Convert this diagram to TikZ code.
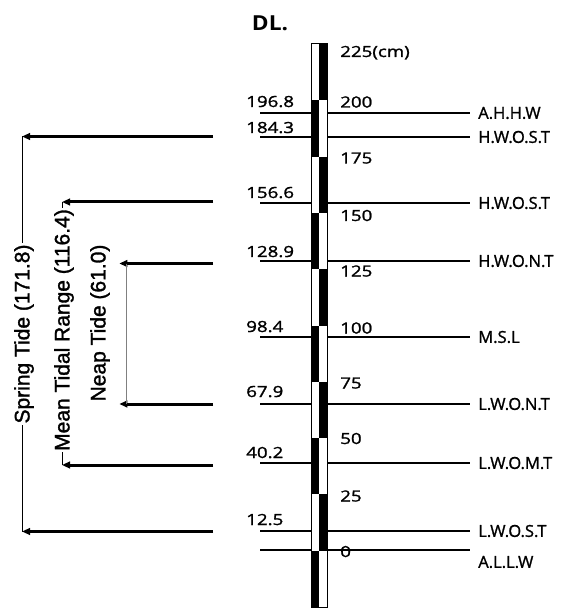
\documentclass[tikz,border=0pt]{standalone}
\usepackage{fontspec}
\usetikzlibrary{arrows.meta}
\newfontfamily\numfont[FakeStretch=1.22,FakeBold=1.5]{Open Sans}
\newfontfamily\dlfont[FakeStretch=1.1]{Open Sans}
\newfontfamily\labfont[FakeBold=1.2]{Open Sans}
\newfontfamily\spanfont[FakeBold=1.5]{Liberation Sans}

\begin{document}
\begin{tikzpicture}[x=0.75pt,y=-0.75pt,
  levelline/.style={line width=1.5pt},
  tidearrow/.style={line width=2.25pt,-{Triangle[length=6pt,width=5pt]}},
  rangeline/.style={line width=0.75pt},
  num/.style={font=\numfont\fontsize{11.5}{13}\selectfont,inner sep=0pt,anchor=base west},
  tag/.style={font=\labfont\fontsize{12.4}{14}\selectfont,inner sep=0pt,anchor=west},
  spantext/.style={font=\spanfont\fontsize{15.75}{18}\selectfont,rotate=90,inner xsep=1pt,inner ysep=0pt}]
  \useasboundingbox (0,0) rectangle (573,609);

  \node[font=\dlfont\bfseries\fontsize{15.5}{17}\selectfont, inner sep=0pt] (dl) at (270,23) {DL.};

  \foreach \k in {0,...,9} {
    \pgfmathsetmacro\ya{44+56.3*\k}
    \pgfmathsetmacro\yb{\ya+56.3}
    \ifodd\k
      \fill (311,\ya) rectangle (319,\yb);
    \else
      \fill (319,\ya) rectangle (327,\yb);
    \fi
  }
  \node[draw, line width=0.75pt, minimum width=12pt, minimum height=422.25pt, inner sep=0pt] (staff) at (319,325.5) {};

  \node[num] (s225) at (340,57) {225(cm)};
  \node[num] (s200) at (340,107.5) {200};
  \node[num] (s175) at (340,163.5) {175};
  \node[num] (s150) at (340,221) {150};
  \node[num] (s125) at (340,276.5) {125};
  \node[num] (s100) at (340,333.5) {100};
  \node[num] (s75) at (340,388.5) {75};
  \node[num] (s50) at (340,444) {50};
  \node[num] (s25) at (340,501.5) {25};
  \node[num] (s0) at (340,557) {0};

  \coordinate (ahhw) at (260,113);
  \coordinate (hwost1) at (260,137);
  \coordinate (hwost2) at (260,203);
  \coordinate (hwont) at (260,261);
  \coordinate (msl) at (260,337);
  \coordinate (lwont) at (260,404);
  \coordinate (lwomt) at (260,463);
  \coordinate (lwost) at (260,531);
  \coordinate (allw) at (260,550);
  \coordinate (allw-end) at (470,550);

  \node[num] (v-ahhw) at (246,107) {196.8};
  \node[num] (v-hwost1) at (246,133) {184.3};
  \node[num] (v-hwost2) at (246,198) {156.6};
  \node[num] (v-hwont) at (246,257) {128.9};
  \node[num] (v-msl) at (246,332) {98.4};
  \node[num] (v-lwont) at (246,397) {67.9};
  \node[num] (v-lwomt) at (246,458) {40.2};
  \node[num] (v-lwost) at (246,525) {12.5};

  \node[tag] (t-ahhw) at (478,113) {A.H.H.W};
  \node[tag] (t-hwost1) at (478,137) {H.W.O.S.T};
  \node[tag] (t-hwost2) at (478,203) {H.W.O.S.T};
  \node[tag] (t-hwont) at (478,261) {H.W.O.N.T};
  \node[tag] (t-msl) at (478,337) {M.S.L};
  \node[tag] (t-lwont) at (478,404) {L.W.O.N.T};
  \node[tag] (t-lwomt) at (478,463) {L.W.O.M.T};
  \node[tag] (t-lwost) at (478,531) {L.W.O.S.T};
  \node[tag] (t-allw) at (478,562) {A.L.L.W};

  \draw[levelline] (ahhw) -- (ahhw -| staff.west);
  \draw[levelline] (ahhw -| staff.east) -- ([xshift=-6pt]t-ahhw.west);
  \draw[levelline] (hwost1) -- (hwost1 -| staff.west);
  \draw[levelline] (hwost1 -| staff.east) -- ([xshift=-6pt]t-hwost1.west);
  \draw[levelline] (hwost2) -- (hwost2 -| staff.west);
  \draw[levelline] (hwost2 -| staff.east) -- ([xshift=-6pt]t-hwost2.west);
  \draw[levelline] (hwont) -- (hwont -| staff.west);
  \draw[levelline] (hwont -| staff.east) -- ([xshift=-6pt]t-hwont.west);
  \draw[levelline] (msl) -- (msl -| staff.west);
  \draw[levelline] (msl -| staff.east) -- ([xshift=-6pt]t-msl.west);
  \draw[levelline] (lwont) -- (lwont -| staff.west);
  \draw[levelline] (lwont -| staff.east) -- ([xshift=-6pt]t-lwont.west);
  \draw[levelline] (lwomt) -- (lwomt -| staff.west);
  \draw[levelline] (lwomt -| staff.east) -- ([xshift=-6pt]t-lwomt.west);
  \draw[levelline] (lwost) -- (lwost -| staff.west);
  \draw[levelline] (lwost -| staff.east) -- ([xshift=-6pt]t-lwost.west);
  \draw[levelline] (allw) -- (allw -| staff.west);
  \draw[levelline] (allw -| staff.east) -- (allw-end);

  \coordinate (a-hwost1) at (213,136.5);
  \coordinate (a-hwost2) at (213,202);
  \coordinate (a-hwont) at (213,263.5);
  \coordinate (a-lwont) at (213,404);
  \coordinate (a-lwomt) at (213,465);
  \coordinate (a-lwost) at (213,531.5);

  \coordinate (sp-top) at (22,136.5);
  \coordinate (sp-bot) at (22,531.5);
  \coordinate (mn-top) at (62,202);
  \coordinate (mn-bot) at (62,465);
  \coordinate (np-top) at (126,263.5);
  \coordinate (np-bot) at (126,404);

  \node[spantext] (sp-txt) at (24,334) {Spring Tide (171.8)};
  \node[spantext] (mn-txt) at (64,330) {Mean Tidal Range (116.4)};
  \node[spantext] (np-txt) at (100,323) {Neap Tide (61.0)};

  \draw[tidearrow] (a-hwost1) -- (sp-top);
  \draw[tidearrow] (a-lwost) -- (sp-bot);
  \draw[tidearrow] (a-hwost2) -- (mn-top);
  \draw[tidearrow] (a-lwomt) -- (mn-bot);
  \draw[tidearrow, shorten >=-5pt] (a-hwont) -- (np-top);
  \draw[tidearrow, shorten >=-5pt] (a-lwont) -- (np-bot);

  \draw[rangeline] (sp-top) -- (sp-top |- sp-txt.east);
  \draw[rangeline] (sp-txt.west -| sp-bot) -- (sp-bot);
  \draw[rangeline] (mn-top) -- (mn-top |- mn-txt.east);
  \draw[rangeline] (mn-txt.west -| mn-bot) -- (mn-bot);
  \draw[rangeline, gray] (np-top) -- (np-bot);

\end{tikzpicture}
\end{document}
